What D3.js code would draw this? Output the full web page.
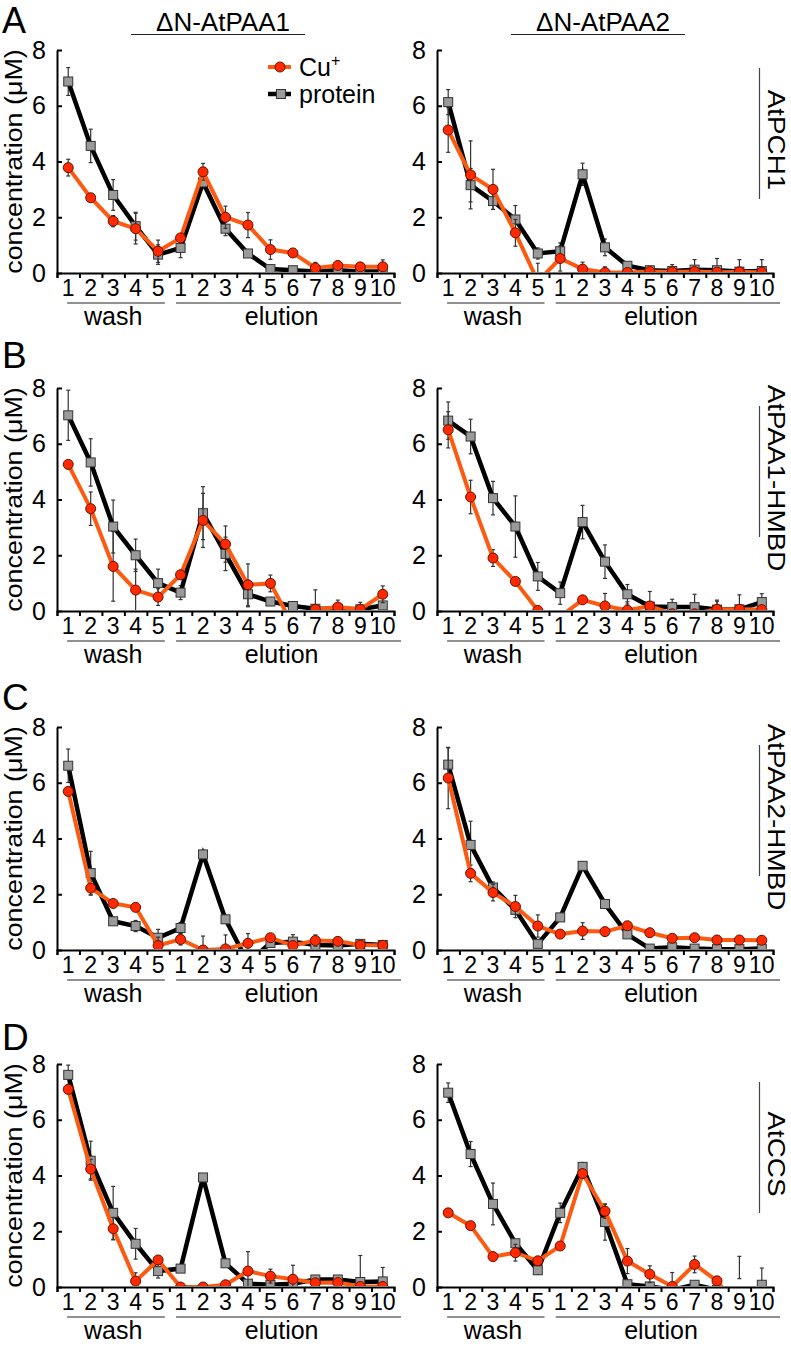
<!DOCTYPE html>
<html>
<head>
<meta charset="utf-8">
<script src="https://cdn.jsdelivr.net/npm/d3@7"></script>
<style>
  body { margin: 0; background: #fff; }
  svg { display: block; font-family: 'Liberation Sans', Arial, sans-serif; }
</style>
</head>
<body>
<div id="chart"></div>
<script>
// fraction labels along the x axis
const fractions = ['1', '2', '3', '4', '5', '1', '2', '3', '4', '5', '6', '7', '8', '9', '10']
const groupNames = ['wash', 'elution']
const groupSizes = [5, 10]
const columnTitles = ['ΔN-AtPAA1', 'ΔN-AtPAA2']
const rowLetters = ['A', 'B', 'C', 'D']
const rowLabels = ['AtPCH1', 'AtPAA1-HMBD', 'AtPAA2-HMBD', 'AtCCS']
const yTicks = [0, 2, 4, 6, 8]

// A – AtPCH1
const cuA1 = [3.78, 2.70, 1.86, 1.59, 0.78, 1.26, 3.63, 2.00, 1.72, 0.84, 0.72, 0.18, 0.27, 0.22, 0.22]
const cuA1Err = [0.3, 0, 0.2, 0.55, 0.4, 0, 0.3, 0.4, 0.45, 0.35, 0, 0.2, 0, 0, 0.25]
const protA1 = [6.87, 4.56, 2.80, 1.68, 0.66, 0.90, 3.25, 1.59, 0.70, 0.14, 0.10, 0.05, 0.10, 0.05, 0.05]
const protA1Err = [0.5, 0.6, 0.55, 0.5, 0.35, 0.35, 0.15, 0.25, 0, 0, 0, 0, 0, 0, 0]
const cuA2 = [5.13, 3.52, 3.00, 1.44, -0.30, 0.52, 0.14, 0.02, 0.02, 0.05, 0.04, 0.05, 0.03, 0.04, 0.03]
const cuA2Err = [0.8, 1.22, 0.72, 0.48, 0.65, 0.45, 0.25, 0.2, 0, 0, 0, 0, 0, 0, 0]
const protA2 = [6.13, 3.15, 2.58, 1.92, 0.70, 0.78, 3.54, 0.92, 0.26, 0.10, 0.07, 0.12, 0.10, 0.05, 0.07]
const protA2Err = [0.45, 0.6, 0.3, 0.5, 0.2, 0.3, 0.4, 0.3, 0, 0.1, 0.23, 0.36, 0.42, 0.43, 0.41]

// B – AtPAA1-HMBD
const cuB1 = [5.26, 3.67, 1.60, 0.75, 0.50, 1.30, 3.25, 2.40, 0.94, 0.99, -0.50, 0.06, 0.14, 0.06, 0.60]
const cuB1Err = [0.1, 0.6, 1.25, 0.75, 0.3, 0.15, 0.97, 0.65, 0.75, 0.3, 0, 0.7, 0.25, 0.25, 0.3]
const protB1 = [7.02, 5.33, 3.03, 2.00, 1.00, 0.66, 3.51, 2.05, 0.60, 0.34, 0.18, 0.08, 0.08, 0.06, 0.20]
const protB1Err = [0.9, 0.85, 0.95, 0.58, 0.5, 0.25, 0.95, 0.6, 0.45, 0, 0, 0, 0, 0, 0.1]
const cuB2 = [6.50, 4.09, 1.90, 1.06, 0.02, -0.20, 0.40, 0.18, 0.03, 0.18, -0.10, -0.10, 0.06, 0.06, 0.05]
const cuB2Err = [0.65, 0.6, 0.3, 0, 0, 0, 0.1, 0.45, 0.3, 0.52, 0, 0, 0.33, 0, 0]
const protB2 = [6.83, 6.26, 4.05, 3.03, 1.24, 0.64, 3.19, 1.77, 0.60, 0.16, 0.14, 0.14, 0.05, 0.06, 0.32]
const protB2Err = [0.67, 0.62, 0.6, 1.1, 0.5, 0.4, 0.6, 0.6, 0.35, 0.1, 0.28, 0.46, 0.3, 0.52, 0.3]

// C – AtPAA2-HMBD
const cuC1 = [5.69, 2.22, 1.67, 1.53, 0.16, 0.38, 0.00, 0.04, 0.24, 0.44, 0.16, 0.34, 0.31, 0.18, 0.17]
const cuC1Err = [0.15, 0.25, 0, 0, 0.3, 0.2, 0.5, 0.5, 0.35, 0, 0, 0.2, 0, 0.1, 0.1]
const protC1 = [6.61, 2.76, 1.03, 0.86, 0.44, 0.79, 3.43, 1.10, -0.45, 0.25, 0.30, 0.18, 0.16, 0.22, 0.18]
const protC1Err = [0.6, 0.78, 0, 0.2, 0.3, 0.2, 0, 0, 0, 0, 0.25, 0.25, 0, 0, 0]
const cuC2 = [6.17, 2.75, 2.06, 1.56, 0.86, 0.57, 0.68, 0.66, 0.87, 0.62, 0.42, 0.44, 0.36, 0.36, 0.35]
const cuC2Err = [1.1, 0.3, 0.3, 0.4, 0.4, 0, 0.3, 0, 0, 0.15, 0, 0, 0, 0, 0]
const protC2 = [6.65, 3.77, 2.24, 1.44, 0.22, 1.17, 3.02, 1.65, 0.56, 0.05, 0.10, 0.05, 0.03, 0.03, 0.05]
const protC2Err = [0.6, 0.85, 0.2, 0, 0, 0, 0, 0, 0, 0, 0, 0, 0, 0, 0]

// D – AtCCS
const cuD1 = [7.09, 4.23, 2.09, 0.21, 0.97, 0.00, 0.00, 0.08, 0.57, 0.39, 0.28, 0.15, 0.16, 0.02, 0.02]
const cuD1Err = [0, 0.35, 0.4, 0.3, 0, 0, 0, 0, 0.7, 0.25, 0.5, 0, 0, 0, 0]
const protD1 = [7.61, 4.53, 2.66, 1.55, 0.57, 0.66, 3.93, 0.85, 0.12, 0.08, 0.12, 0.27, 0.27, 0.18, 0.20]
const protD1Err = [0.35, 0.7, 0.95, 0.55, 0.25, 0, 0, 0, 0, 0, 0, 0.1, 0, 0.95, 0.5]
const cuD2 = [2.66, 2.20, 1.09, 1.23, 0.94, 1.47, 4.07, 2.72, 0.93, 0.46, 0.02, 0.81, 0.22, -0.80, -0.30]
const cuD2Err = [0, 0, 0, 0.3, 0, 0, 0, 0.25, 0.45, 0.3, 0.5, 0.3, 0, 0, 0]
const protD2 = [6.97, 4.77, 2.98, 1.57, 0.60, 2.66, 4.31, 2.33, 0.10, 0.02, -0.10, 0.08, -0.10, null, 0.08]
const protD2Err = [0.35, 0.45, 0.75, 0, 0.15, 0.35, 0.1, 0.65, 0, 0, 0, 0, 0, 0, 0.6]
// error bar without a visible point (D right, elution 9): [index, low, high]
const looseBarD2 = [13, 0.3, 1.1]

const panels = [
  { row: 0, col: 0, cu: cuA1, cuErr: cuA1Err, prot: protA1, protErr: protA1Err },
  { row: 0, col: 1, cu: cuA2, cuErr: cuA2Err, prot: protA2, protErr: protA2Err },
  { row: 1, col: 0, cu: cuB1, cuErr: cuB1Err, prot: protB1, protErr: protB1Err },
  { row: 1, col: 1, cu: cuB2, cuErr: cuB2Err, prot: protB2, protErr: protB2Err },
  { row: 2, col: 0, cu: cuC1, cuErr: cuC1Err, prot: protC1, protErr: protC1Err },
  { row: 2, col: 1, cu: cuC2, cuErr: cuC2Err, prot: protC2, protErr: protC2Err },
  { row: 3, col: 0, cu: cuD1, cuErr: cuD1Err, prot: protD1, protErr: protD1Err },
  { row: 3, col: 1, cu: cuD2, cuErr: cuD2Err, prot: protD2, protErr: protD2Err, loose: looseBarD2 }
]

// layout
const width = 791, height = 1349
const colX = [[57, 394], [437, 773]]
const rowTop = [50, 388, 727, 1064]
const letterY = [33, 368, 710, 1050]
const plotH = 223
const cuLine = '#fb5a10', cuFill = '#ff2a00', cuStroke = '#6a1000'
const protFill = '#9a9a9a', protStroke = '#333'

const svg = d3.select('#chart').append('svg').attr('width', width).attr('height', height)
const defs = svg.append('defs')

// column titles with underline
columnTitles.forEach((t, c) => {
  const x0 = colX[c][0]
  svg.append('text').attr('x', x0 + 166).attr('y', 31).attr('text-anchor', 'middle')
    .attr('font-size', 26).text(t)
  svg.append('line').attr('x1', x0 + 74).attr('x2', x0 + 248).attr('y1', 34.5).attr('y2', 34.5)
    .attr('stroke', '#222').attr('stroke-width', 1.2)
})

rowLetters.forEach((l, r) => {
  svg.append('text').attr('x', 2).attr('y', letterY[r]).attr('font-size', r === 0 ? 36 : 37).text(l)
})

panels.forEach((p, i) => {
  const [x0, x1] = colX[p.col]
  const top = rowTop[p.row]
  const base = top + plotH
  const x = d3.scaleBand().domain(d3.range(fractions.length)).range([x0, x1])
  const xb = d3.scaleLinear().domain([0, fractions.length]).range([x0, x1])
  const y = d3.scaleLinear().domain([0, 8]).range([base, top])
  const bw = x.bandwidth()
  const cx = j => x(j) + bw / 2

  const g = svg.append('g')

  // y axis, ticks pointing inwards
  const ya = g.append('g').attr('transform', `translate(${x0},0)`)
    .call(d3.axisLeft(y).tickValues(yTicks).tickSizeInner(-5).tickSizeOuter(0).tickPadding(11))
  // x axis: tick marks at fraction boundaries
  const xa = g.append('g').attr('transform', `translate(0,${base})`)
    .call(d3.axisBottom(xb).tickValues(d3.range(fractions.length + 1)).tickSize(5).tickFormat(''))
  const xl = g.append('g').attr('transform', `translate(0,${base})`)
    .call(d3.axisBottom(x).tickSize(0).tickPadding(7).tickFormat(j => fractions[j]))
  xl.select('.domain').remove()
  ;[ya, xa].forEach(a => {
    a.select('.domain').attr('stroke', '#000').attr('stroke-width', 2)
    a.selectAll('.tick line').attr('stroke', '#000').attr('stroke-width', 2)
  })
  ya.selectAll('text').attr('font-size', 25).attr('fill', '#000')
  xl.selectAll('text').attr('font-size', 23).attr('fill', '#000')
  ;[ya, xa, xl].forEach(a => a.attr('font-family', null))

  // wash / elution groups
  let start = 0
  groupNames.forEach((name, k) => {
    const end = start + groupSizes[k]
    const lx1 = k === 0 ? xb(start) + 0.45 * bw : xb(start) + 0.3 * bw
    const lx2 = k === 0 ? xb(end) - 0.2 * bw : xb(end) + 7
    g.append('line').attr('x1', lx1).attr('x2', lx2).attr('y1', base + 30).attr('y2', base + 30)
      .attr('stroke', '#222').attr('stroke-width', 1.2)
    g.append('text').attr('x', xb((start + end) / 2)).attr('y', base + 52)
      .attr('text-anchor', 'middle').attr('font-size', 25).text(name)
    start = end
  })

  if (p.col === 0) {
    g.append('text')
      .attr('transform', `translate(${x0 - 35},${top + plotH / 2}) rotate(-90) scale(1.12,1)`)
      .attr('text-anchor', 'middle').attr('font-size', 24).text('concentration (μM)')
  } else {
    g.append('line').attr('x1', 759.5).attr('x2', 759.5).attr('y1', top + 18).attr('y2', top + 149)
      .attr('stroke', '#444').attr('stroke-width', 1.2)
    g.append('text')
      .attr('transform', `translate(${768},${top + 90}) rotate(90) scale(1.16,1)`)
      .attr('text-anchor', 'middle').attr('font-size', 24).text(rowLabels[p.row])
  }

  // plotting area clipped at the x axis
  defs.append('clipPath').attr('id', 'clip' + i).append('rect')
    .attr('x', x0 - 10).attr('y', top - 30).attr('width', x1 - x0 + 20).attr('height', plotH + 29)
  const plot = g.append('g').attr('clip-path', `url(#clip${i})`)

  const bar = (eb, xx, lo, hi) => {
    eb.append('line').attr('x1', xx).attr('x2', xx).attr('y1', lo).attr('y2', hi)
    eb.append('line').attr('x1', xx - 2).attr('x2', xx + 2).attr('y1', lo).attr('y2', lo)
    eb.append('line').attr('x1', xx - 2).attr('x2', xx + 2).attr('y1', hi).attr('y2', hi)
  }
  const drawBars = (vals, errs) => {
    const eb = plot.append('g').attr('stroke', '#333').attr('stroke-width', 1.2)
    vals.forEach((v, j) => {
      if (v != null && errs[j] > 0) bar(eb, cx(j), y(v - errs[j]), y(v + errs[j]))
    })
    return eb
  }
  const line = d3.line().defined(v => v != null).x((v, j) => cx(j)).y(v => y(v))

  // protein
  const pb = drawBars(p.prot, p.protErr)
  if (p.loose) bar(pb, cx(p.loose[0]), y(p.loose[1]), y(p.loose[2]))
  plot.append('path').datum(p.prot).attr('d', line).attr('fill', 'none')
    .attr('stroke', '#000').attr('stroke-width', 4.5)
  plot.selectAll('rect.prot').data(p.prot.map((v, j) => ({ v, j })).filter(d => d.v != null))
    .enter().append('rect').attr('class', 'prot')
    .attr('x', d => cx(d.j) - 4.5).attr('y', d => y(d.v) - 4.5).attr('width', 9).attr('height', 9)
    .attr('fill', protFill).attr('stroke', protStroke).attr('stroke-width', 1)

  // Cu+
  drawBars(p.cu, p.cuErr)
  plot.append('path').datum(p.cu).attr('d', line).attr('fill', 'none')
    .attr('stroke', cuLine).attr('stroke-width', 4)
  plot.selectAll('circle.cu').data(p.cu.map((v, j) => ({ v, j })))
    .enter().append('circle').attr('class', 'cu')
    .attr('cx', d => cx(d.j)).attr('cy', d => y(d.v)).attr('r', 5)
    .attr('fill', cuFill).attr('stroke', cuStroke).attr('stroke-width', 1)

  // legend in the first panel
  if (i === 0) {
    const lg = g.append('g')
    lg.append('line').attr('x1', 268).attr('x2', 291).attr('y1', 67).attr('y2', 67)
      .attr('stroke', cuLine).attr('stroke-width', 4)
    lg.append('circle').attr('cx', 280).attr('cy', 67).attr('r', 5)
      .attr('fill', cuFill).attr('stroke', cuStroke)
    const t = lg.append('text').attr('x', 299).attr('y', 76).attr('font-size', 25).text('Cu')
    t.append('tspan').attr('font-size', 16).attr('dy', -10).text('+')
    lg.append('line').attr('x1', 268).attr('x2', 291).attr('y1', 94).attr('y2', 94)
      .attr('stroke', '#000').attr('stroke-width', 4.5)
    lg.append('rect').attr('x', 276.5).attr('y', 89.5).attr('width', 9).attr('height', 9)
      .attr('fill', protFill).attr('stroke', protStroke)
    lg.append('text').attr('x', 299).attr('y', 103).attr('font-size', 25).text('protein')
  }
})
</script>
</body>
</html>
